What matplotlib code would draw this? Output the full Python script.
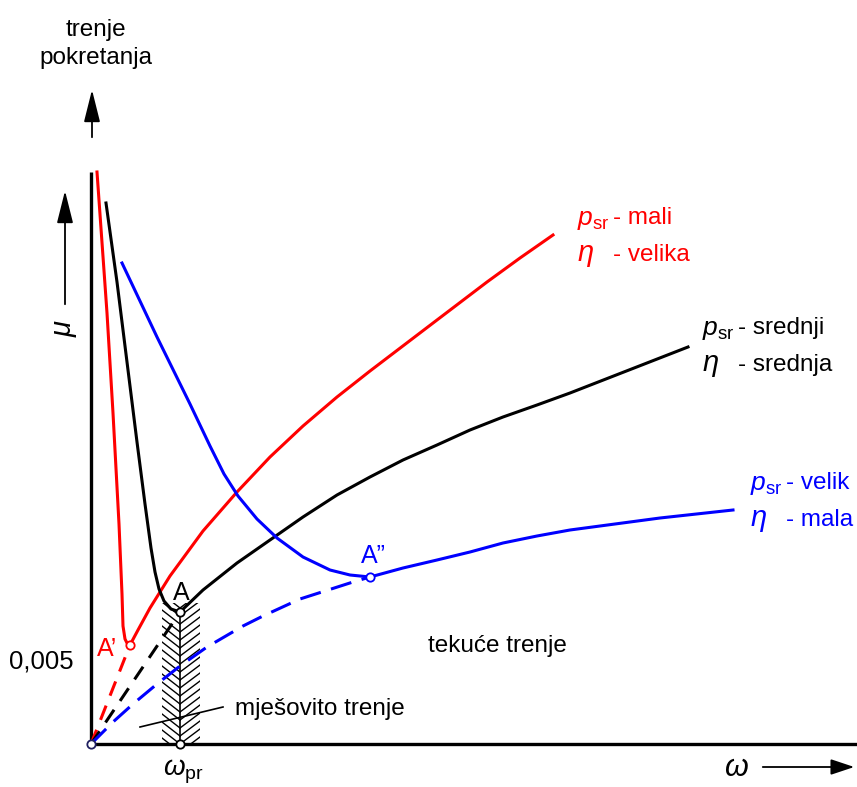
import numpy as np
import matplotlib.pyplot as plt
from matplotlib.patches import Rectangle

plt.rcParams['font.family'] = ['Liberation Sans', 'DejaVu Sans']
plt.rcParams['mathtext.fontset'] = 'custom'
plt.rcParams['mathtext.rm'] = 'Liberation Sans'
plt.rcParams['mathtext.it'] = 'Liberation Sans:italic'

# curves (omega, mu) in drawing units
red_fall_w = [6, 16, 22, 28, 31, 32, 34, 36, 39]
red_fall_mu = [572, 431, 331, 220, 150, 118, 105, 101, 99]
red_rise_w = [39, 47, 59, 79, 112, 146, 179, 212, 246, 279, 346, 396, 429, 462]
red_rise_mu = [99, 114, 136, 168, 213, 252, 287, 318, 347, 373, 424, 462, 486, 509]
red_dash_w = [0, 39]
red_dash_mu = [0, 99]

blk_fall_w = [15, 26, 36, 46, 54, 60, 64, 68, 73, 80, 89]
blk_fall_mu = [541, 462, 382, 302, 240, 196, 172, 155, 143, 135, 132]
blk_rise_w = [89, 112, 146, 179, 212, 246, 279, 312, 346, 379, 412, 446, 479, 597]
blk_rise_mu = [132, 154, 181, 204, 227, 249, 267, 284, 299, 314, 327, 339, 351, 397]
blk_dash_w = [0, 89]
blk_dash_mu = [0, 132]

blu_fall_w = [31, 66, 99, 119, 133, 147, 166, 186, 212, 239, 259, 279]
blu_fall_mu = [481, 407, 340, 298, 270, 248, 225, 206, 187, 174, 169, 167]
blu_rise_w = [279, 312, 346, 379, 412, 446, 479, 569, 642]
blu_rise_mu = [167, 176, 184, 192, 201, 208, 214, 226, 234]
blu_dash_w = [0, 22, 42, 66, 89, 116, 152, 172, 209, 262, 279]
blu_dash_mu = [0, 22, 40, 60, 78, 97, 118, 128, 145, 162, 167]

# points A', A, A'' and omega_pr
pt_w = {'red': 39, 'black': 89, 'blue': 279}
pt_mu = {'red': 99, 'black': 132, 'blue': 167}
w_pr = 89

RED = '#ff0000'
BLUE = '#0000ff'

fig = plt.figure(figsize=(8.57, 7.87), dpi=100, facecolor='w')
ax = fig.add_axes([0, 0, 1, 1])
ax.set_xlim(-91, 766)
ax.set_ylim(-43, 744)
ax.axis('off')

# axes of the diagram
ax.plot([0, 0], [0, 572], c='k', lw=2.4, solid_capstyle='butt')
ax.plot([0, 766], [0, 0], c='k', lw=2.4, solid_capstyle='butt')

# mixed friction zone (hatched)
clip = Rectangle((71, 0), 38, 141, fill=False, lw=0)
ax.add_patch(clip)
for h in np.arange(-10, 175, 8):
    l1, = ax.plot([71, 89], [h, h - 14], c='k', lw=1.0)
    l2, = ax.plot([89, 109], [h - 14, h + 1], c='k', lw=1.0)
    l1.set_clip_path(clip)
    l2.set_clip_path(clip)
ax.plot([w_pr, w_pr], [0, pt_mu['black']], c='k', lw=1.2)

# curves
lw = 2.2
ax.plot(red_fall_w, red_fall_mu, c=RED, lw=lw)
ax.plot(red_rise_w, red_rise_mu, c=RED, lw=lw)
ax.plot(red_dash_w, red_dash_mu, c=RED, lw=lw, dashes=(5, 3.5))
ax.plot(blk_fall_w, blk_fall_mu, c='k', lw=lw)
ax.plot(blk_rise_w, blk_rise_mu, c='k', lw=lw)
ax.plot(blk_dash_w, blk_dash_mu, c='k', lw=lw, dashes=(5, 3.5))
ax.plot(blu_fall_w, blu_fall_mu, c=BLUE, lw=lw)
ax.plot(blu_rise_w, blu_rise_mu, c=BLUE, lw=lw)
ax.plot(blu_dash_w, blu_dash_mu, c=BLUE, lw=lw, dashes=(7, 3.5))

# point markers
for col, c in [('red', RED), ('black', 'k'), ('blue', BLUE)]:
    ax.plot(pt_w[col], pt_mu[col], 'o', ms=6, mfc='w', mec=c, mew=1.3, zorder=5)
ax.plot(0, 0, 'o', ms=6, mfc='w', mec='#202060', mew=1.3, zorder=5)
ax.plot(w_pr, 0, 'o', ms=6, mfc='w', mec='k', mew=1.3, zorder=5)

# arrows
arr = dict(arrowstyle='-|>,head_length=1.0,head_width=0.25', mutation_scale=20, lw=1.3, color='k')
ax.annotate('', xy=(1, 657), xytext=(1, 604), arrowprops=arr)
ax.annotate('', xy=(-26, 556), xytext=(-26, 437), arrowprops=arr)
ax.annotate('', xy=(766, -23), xytext=(669, -23),
            arrowprops=dict(arrowstyle='-|>,head_length=0.9,head_width=0.3', mutation_scale=16, lw=1.3, color='k'))

# texts
fs = 17.5
ax.text(5, 700, 'trenje\npokretanja', ha='center', va='center', fontsize=fs, linespacing=1.35)
ax.text(-26, 416, r'$\mu$', ha='center', va='center', fontsize=21, rotation=90)
ax.text(-50, 83, '0,005', ha='center', va='center', fontsize=18.5)
ax.text(92, -28, r'$\omega_{\mathrm{pr}}$', ha='center', va='center', fontsize=20)
ax.text(645, -24, r'$\omega$', ha='center', va='center', fontsize=22)
ax.text(90, 151, 'A', ha='center', va='center', fontsize=18)
ax.text(16, 95, 'A\u2019', ha='center', va='center', fontsize=18, color=RED)
ax.text(282, 188, 'A\u201d', ha='center', va='center', fontsize=18, color=BLUE)
ax.text(144, 29, 'mješovito trenje', ha='left', va='baseline', fontsize=fs)
ax.text(337, 92, 'tekuće trenje', ha='left', va='baseline', fontsize=fs)
ax.plot([49, 132], [17, 37], c='k', lw=1.2)

legend_rows = [
    (486, 526, 489, RED, '- mali', '- velika'),
    (611, 416, 379, 'k', '- srednji', '- srednja'),
    (659, 261, 224, BLUE, '- velik', '- mala'),
]
for x0, y1, y2, c, t1, t2 in legend_rows:
    ax.text(x0, y1 - 2, r'$p_{\mathrm{sr}}$', ha='left', va='center', fontsize=19, color=c)
    ax.text(x0 + 36, y1, t1, ha='left', va='center', fontsize=fs, color=c)
    ax.text(x0, y2, r'$\eta$', ha='left', va='center', fontsize=21, color=c)
    ax.text(x0 + 36, y2, t2, ha='left', va='center', fontsize=fs, color=c)

fig.savefig('out.png', dpi=100, facecolor='w')
